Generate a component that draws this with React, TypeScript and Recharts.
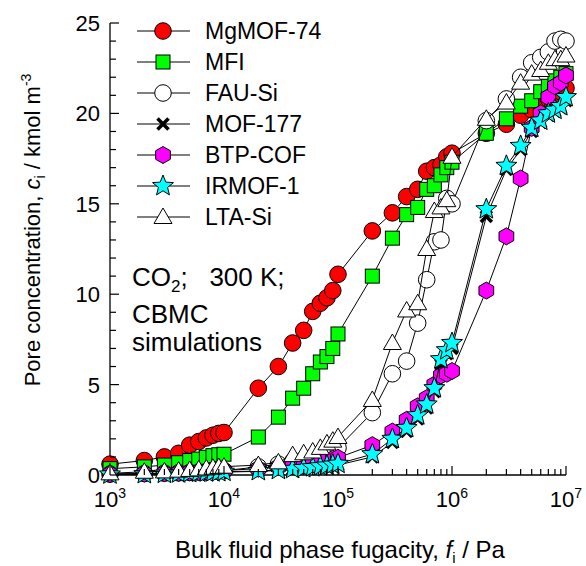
import { ScatterChart, Scatter, XAxis, YAxis, Legend } from "recharts";

// fugacities (Pa) where the CBMC points were taken
const fugacity = [
  1e3, 2e3, 3e3, 4e3, 5e3, 6e3, 7e3, 8e3, 9e3,
  1e4, 2e4, 3e4, 4e4, 5e4, 6e4, 7e4, 8e4, 9e4,
  1e5, 2e5, 3e5, 4e5, 5e5, 6e5, 7e5, 8e5, 9e5,
  1e6, 2e6, 3e6, 4e6, 5e6, 6e6, 7e6, 8e6, 9e6,
  1e7,
];

// pore concentrations, kmol/m3
const mgMof74 = [
  0.6, 0.8, 1.0, 1.2, 1.65, 1.85, 2.05, 2.2, 2.3,
  2.35, 4.8, 6.0, 7.3, 8.0, 9.05, 9.5, 9.8, 10.2,
  11.1, 13.5, 14.5, 15.4, 15.8, 16.8, 17.0, 17.15, 17.6,
  17.8, 18.9, 19.4, 19.9, 20.2, 20.5, 20.8, 21.0, 21.2,
  21.4,
];
const mfi = [
  0.35, 0.45, 0.55, 0.68, 0.8, 0.88, 0.98, 1.07, 1.12,
  1.15, 2.1, 3.2, 4.25, 4.8, 5.6, 6.25, 6.55, 7.0,
  7.8, 11.0, 13.1, 14.4, 14.8, 15.8, 16.0, 16.6, 17.0,
  17.3, 18.9, 19.7, 20.4, 20.7, 21.2, 21.5, 21.8, 22.0,
  22.2,
];
const fauSi = [
  0.05, 0.08, 0.1, 0.12, 0.14, 0.16, 0.18, 0.2, 0.22,
  0.24, 0.45, 0.6, 0.75, 0.85, 0.95, 1.05, 1.15, 1.25,
  1.5, 3.45, 5.6, 6.3, 8.4, 10.8, 12.9, 13.0, 15.3,
  15.0, 19.6, 20.8, 22.0, 22.8, 23.1, 23.4, 24.0, 24.1,
  24.0,
];
const mof177 = [
  0.02, 0.04, 0.06, 0.08, 0.1, 0.12, 0.13, 0.14, 0.15,
  0.16, 0.2, 0.25, 0.3, 0.34, 0.38, 0.42, 0.46, 0.5,
  0.55, 1.0, 1.8, 2.4, 3.1, 3.7, 4.6, 6.1, 6.7,
  7.0, 14.3, 16.9, 18.0, 19.0, 19.5, 19.9, 20.1, 20.3,
  20.7,
];
const btpCof = [
  0.05, 0.08, 0.1, 0.12, 0.15, 0.17, 0.19, 0.2, 0.22,
  0.25, 0.35, 0.45, 0.55, 0.6, 0.68, 0.75, 0.82, 0.9,
  0.95, 1.65, 2.4, 3.05, 3.8, 4.25, 5.0, 5.5, 5.6,
  5.75, 10.2, 13.2, 16.4, 19.2, 20.0, 20.9, 21.5, 21.7,
  22.1,
];
const irmof1 = [
  0.03, 0.05, 0.07, 0.09, 0.11, 0.13, 0.14, 0.15, 0.16,
  0.18, 0.22, 0.28, 0.33, 0.38, 0.43, 0.48, 0.52, 0.57,
  0.62, 1.15, 2.0, 2.6, 3.3, 3.9, 4.8, 6.4, 6.9,
  7.3, 14.7, 17.1, 18.2, 19.2, 19.6, 20.0, 20.2, 20.4,
  20.9,
];
const ltaSi = [
  0.09, 0.18, 0.2, 0.24, 0.28, 0.31, 0.36, 0.4, 0.44,
  0.46, 0.55, 0.7, 1.1, 1.2, 1.3, 1.5, 1.75, 1.9,
  2.1, 4.15, 7.3, 9.1, 9.5, 12.5, 14.6, 14.8, 15.2,
  17.6, 19.7, 20.6, 21.7, 22.2, 22.4, 22.8, 23.0, 23.0,
  23.2,
];

const xTicks = fugacity;
const yTicks = [0, 1, 2, 3, 4, 5, 6, 7, 8, 9, 10, 11, 12, 13, 14, 15, 16, 17, 18, 19, 20, 21, 22, 23, 24, 25];

const FONT = "'Liberation Sans', Arial, sans-serif";

const series = [
  { name: "MgMOF-74", values: mgMof74, kind: "circle", fill: "#ff0000" },
  { name: "MFI", values: mfi, kind: "square", fill: "#00ff00" },
  { name: "FAU-Si", values: fauSi, kind: "circle", fill: "#ffffff" },
  { name: "MOF-177", values: mof177, kind: "cross", fill: "#000000" },
  { name: "BTP-COF", values: btpCof, kind: "hexagon", fill: "#ff00ff" },
  { name: "IRMOF-1", values: irmof1, kind: "star", fill: "#00ffff" },
  { name: "LTA-Si", values: ltaSi, kind: "triangle", fill: "#ffffff" },
];

const polyPoints = (cx: number, cy: number, n: number, r: number, start: number, inner?: number) => {
  const pts: string[] = [];
  const count = inner ? n * 2 : n;
  for (let i = 0; i < count; i++) {
    const rr = inner && i % 2 === 1 ? inner : r;
    const a = start + (i * 2 * Math.PI) / count;
    pts.push(`${cx + rr * Math.cos(a)},${cy + rr * Math.sin(a)}`);
  }
  return pts.join(" ");
};

function Marker({ kind, fill, cx, cy }: any) {
  if (cx == null || cy == null) return null;
  switch (kind) {
    case "circle":
      return <circle cx={cx} cy={cy} r={8.3} fill={fill} stroke="#000" strokeWidth={1} />;
    case "square":
      return <rect x={cx - 7} y={cy - 7} width={14} height={14} fill={fill} stroke="#000" strokeWidth={1} />;
    case "hexagon":
      return <polygon points={polyPoints(cx, cy, 6, 8.5, -Math.PI / 2)} fill={fill} stroke="#000" strokeWidth={1} />;
    case "star":
      return <polygon points={polyPoints(cx, cy, 5, 11, -Math.PI / 2, 4.8)} fill={fill} stroke="#000" strokeWidth={1} />;
    case "triangle":
      return <polygon points={`${cx},${cy - 9} ${cx - 9},${cy + 6.5} ${cx + 9},${cy + 6.5}`} fill={fill} stroke="#000" strokeWidth={1} />;
    case "cross":
      return (
        <g stroke="#000" strokeWidth={3.5}>
          <line x1={cx - 5.5} y1={cy - 5.5} x2={cx + 5.5} y2={cy + 5.5} />
          <line x1={cx - 5.5} y1={cy + 5.5} x2={cx + 5.5} y2={cy - 5.5} />
        </g>
      );
  }
  return null;
}

const XTick = ({ x, y, payload }: any) => {
  const lg = Math.log10(payload.value);
  const exp = Math.round(lg);
  const major = Math.abs(lg - exp) < 1e-6;
  return (
    <g>
      <line x1={x} x2={x} y1={y} y2={y - (major ? 9 : 6)} stroke="#000" strokeWidth={1.2} />
      {major && (
        <text x={x} y={y + 32} textAnchor="middle" fontSize={22} fontFamily={FONT} fill="#000">
          10<tspan dy={-9} fontSize={14}>{exp}</tspan>
        </text>
      )}
    </g>
  );
};

const YTick = ({ x, y, payload }: any) => {
  const major = payload.value % 5 === 0;
  return (
    <g>
      <line x1={x} x2={x + (major ? 9 : 6)} y1={y} y2={y} stroke="#000" strokeWidth={1.2} />
      {major && (
        <text x={x - 10} y={y + 8} textAnchor="end" fontSize={22} fontFamily={FONT} fill="#000">
          {payload.value}
        </text>
      )}
    </g>
  );
};

const LegendBox = () => (
  <svg width={340} height={240} style={{ position: "absolute", left: 0, top: 0 }}>
    {series.map((s, i) => {
      const cy = 31 + i * 31;
      return (
        <g key={s.name}>
          <line x1={137} x2={190} y1={cy} y2={cy} stroke="#000" strokeWidth={1} />
          <Marker kind={s.kind} fill={s.fill} cx={163} cy={cy} />
          <text x={205} y={cy + 8} fontSize={23} fontFamily={FONT} fill="#000">
            {s.name}
          </text>
        </g>
      );
    })}
  </svg>
);

export default function App() {
  return (
    <div style={{ position: "absolute", left: 0, top: 0, width: 586, height: 566, background: "#fff", fontFamily: FONT }}>
      <ScatterChart width={586} height={566} margin={{ top: 23, right: 20, left: 0, bottom: 0 }}>
        <XAxis
          type="number"
          dataKey="f"
          scale="log"
          domain={[1e3, 1e7]}
          ticks={xTicks}
          interval={0}
          height={91}
          tickSize={0}
          tickMargin={0}
          tickLine={false}
          axisLine={{ stroke: "#000", strokeWidth: 1.3 }}
          tick={<XTick />}
          label={{
            content: () => (
              <text x={340} y={558} textAnchor="middle" fontSize={24} fontFamily={FONT} fill="#000">
                Bulk fluid phase fugacity,{" "}
                <tspan fontStyle="italic">f</tspan>
                <tspan dy={5} fontSize={15}>i</tspan>
                <tspan dy={-5}> / Pa</tspan>
              </text>
            ),
          }}
        />
        <YAxis
          type="number"
          dataKey="c"
          domain={[0, 25]}
          ticks={yTicks}
          interval={0}
          width={110}
          tickSize={0}
          tickMargin={0}
          tickLine={false}
          axisLine={{ stroke: "#000", strokeWidth: 1.3 }}
          tick={<YTick />}
          label={{
            content: () => (
              <text
                x={40}
                y={230}
                transform="rotate(-90, 40, 230)"
                textAnchor="middle"
                fontSize={22}
                fontFamily={FONT}
                fill="#000"
              >
                Pore concentration,{" "}
                <tspan fontStyle="italic">c</tspan>
                <tspan dy={5} fontSize={14}>i</tspan>
                <tspan dy={-5}> / kmol m</tspan>
                <tspan dy={-9} fontSize={14}>-3</tspan>
              </text>
            ),
          }}
        />
        <Legend
          layout="horizontal"
          verticalAlign="middle"
          align="center"
          wrapperStyle={{ left: 0, top: 0, width: 340, height: 240 }}
          content={() => <LegendBox />}
        />
        {series.map((s) => (
          <Scatter
            key={s.name}
            name={s.name}
            data={fugacity.map((f, i) => ({ f, c: s.values[i] }))}
            line={{ stroke: "#000", strokeWidth: 1 }}
            lineType="joint"
            isAnimationActive={false}
            shape={(p: any) => <Marker kind={s.kind} fill={s.fill} cx={p.cx} cy={p.cy} />}
          />
        ))}
        <text x={132} y={286} fontSize={26} fontFamily={FONT} fill="#000">
          CO<tspan dy={6} fontSize={17}>2</tspan>
          <tspan dy={-6}>;{"\u00a0\u00a0\u00a0"}300 K;</tspan>
        </text>
        <text x={132} y={323} fontSize={26} fontFamily={FONT} fill="#000">
          CBMC
        </text>
        <text x={132} y={351} fontSize={26} fontFamily={FONT} fill="#000">
          simulations
        </text>
      </ScatterChart>
    </div>
  );
}
